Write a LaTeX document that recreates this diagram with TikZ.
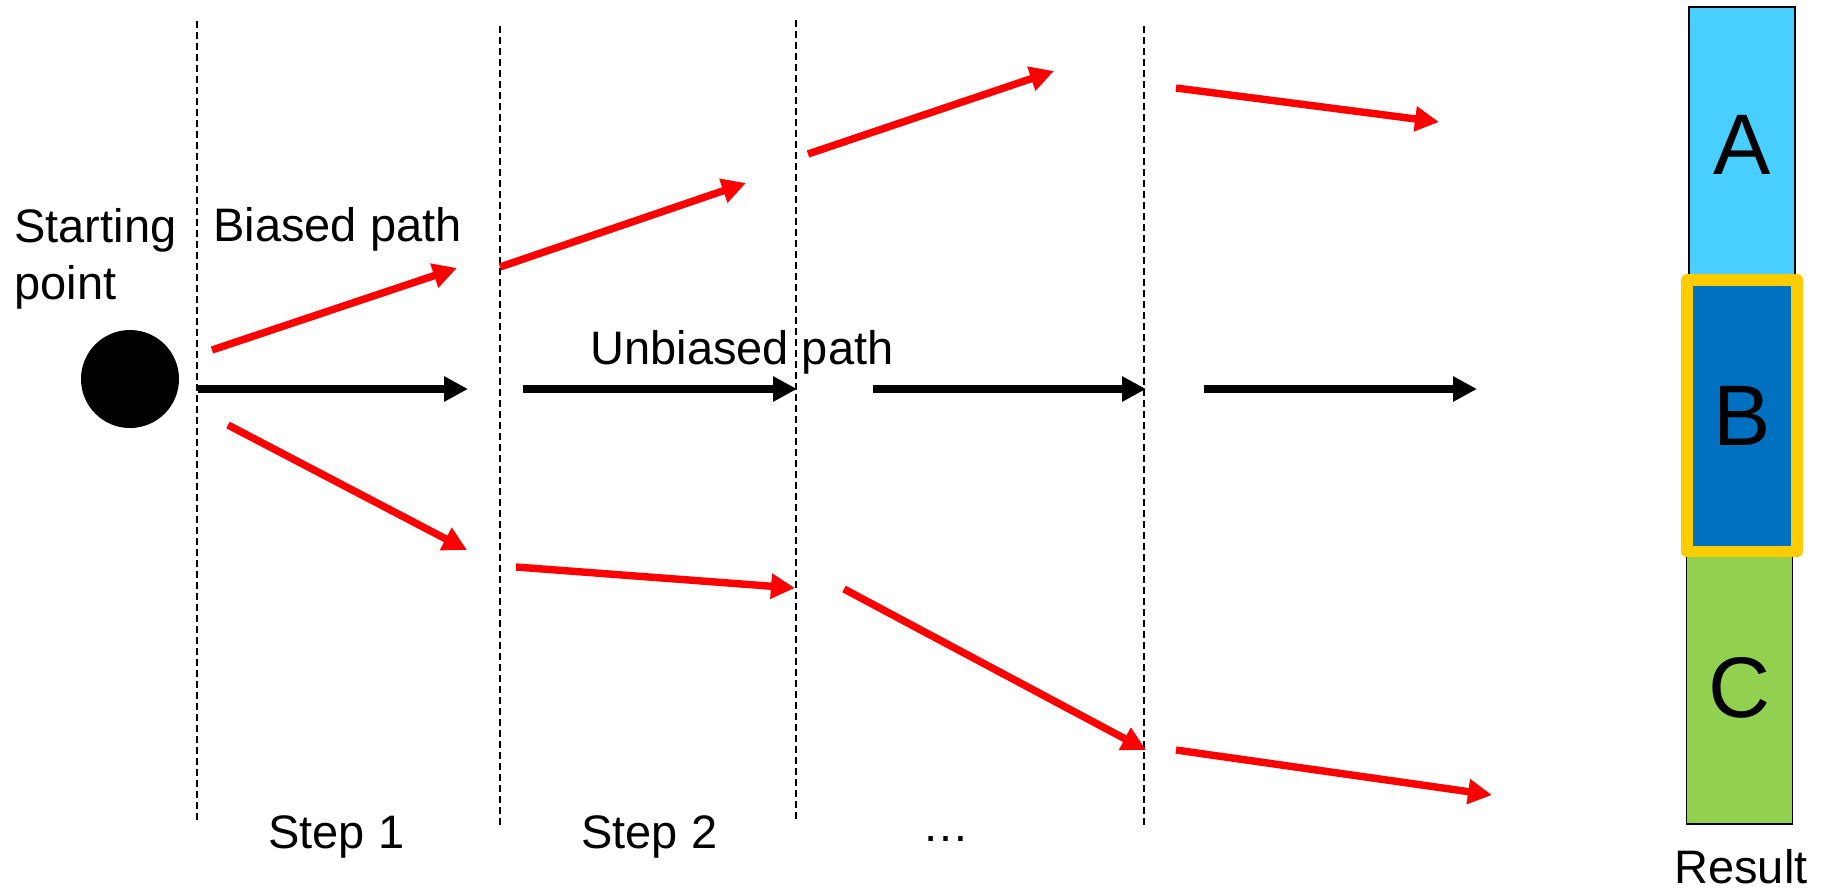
\documentclass[tikz,border=0pt]{standalone}
\usepackage{fontspec}
\setmainfont{Liberation Sans}
\usetikzlibrary{arrows.meta}
\definecolor{lblue}{RGB}{72,207,255}
\definecolor{dblue}{RGB}{0,112,192}
\definecolor{lgreen}{RGB}{146,208,80}
\definecolor{gold}{RGB}{255,204,0}
\definecolor{redarrow}{RGB}{255,0,0}
\begin{document}
\begin{tikzpicture}[x=0.5pt,y=-0.5pt,
  lbl/.style={font=\fontsize{23.5pt}{28.5pt}\selectfont, inner sep=0pt, anchor=base west},
  divider/.style={draw=black, line width=0.8pt, dash pattern=on 3.5pt off 2pt},
  move/.style={line width=3.7pt, -{Triangle[length=12pt,width=12pt]}},
  bias/.style={move, draw=redarrow, fill=redarrow},
  unbias/.style={move, draw=black, fill=black},
  bar/.style={draw=black, line width=0.75pt, inner sep=0pt, font=\fontsize{43pt}{50pt}\selectfont, minimum width=53pt}
]
\useasboundingbox (0,0) rectangle (1828,891);

% dividers
\coordinate (d1t) at (197,21);  \coordinate (d1b) at (197,822);
\coordinate (d2t) at (500,26);  \coordinate (d2b) at (500,828);
\coordinate (d3t) at (796,20);  \coordinate (d3b) at (796,822);
\coordinate (d4t) at (1144,26); \coordinate (d4b) at (1144,828);
\draw[divider] (d1t) -- (d1b);
\draw[divider] (d2t) -- (d2b);
\draw[divider] (d3t) -- (d3b);
\draw[divider] (d4t) -- (d4b);

% starting point
\node[circle, fill=black, inner sep=0pt, minimum size=49pt] (start) at (130,379) {};

% unbiased arrows
\coordinate (u1s) at (198,389);  \coordinate (u1e) at (468,389);
\coordinate (u2s) at (523,389);  \coordinate (u2e) at (797,389);
\coordinate (u3s) at (873,389);  \coordinate (u3e) at (1146,389);
\coordinate (u4s) at (1204,389); \coordinate (u4e) at (1477,389);
\draw[unbias] (u1s) -- (u1e);
\draw[unbias] (u2s) -- (u2e);
\draw[unbias] (u3s) -- (u3e);
\draw[unbias] (u4s) -- (u4e);

% biased arrows (upper)
\coordinate (a1s) at (212,350);  \coordinate (a1e) at (457,268);
\coordinate (a2s) at (500,267);  \coordinate (a2e) at (746,183);
\coordinate (a3s) at (808,154);  \coordinate (a3e) at (1054,71);
\coordinate (a4s) at (1176,88);  \coordinate (a4e) at (1439,122);
\draw[bias] (a1s) -- (a1e);
\draw[bias] (a2s) -- (a2e);
\draw[bias] (a3s) -- (a3e);
\draw[bias] (a4s) -- (a4e);

% biased arrows (lower)
\coordinate (b1s) at (228,425);  \coordinate (b1e) at (467,550);
\coordinate (b2s) at (516,567);  \coordinate (b2e) at (795,588);
\coordinate (b3s) at (844,589);  \coordinate (b3e) at (1146,750);
\coordinate (b4s) at (1176,750); \coordinate (b4e) at (1492,795);
\draw[bias] (b1s) -- (b1e);
\draw[bias] (b2s) -- (b2e);
\draw[bias] (b3s) -- (b3e);
\draw[bias] (b4s) -- (b4e);

% labels
\node[lbl, align=left] (startlbl) at (14,299) {Starting\\point};
\node[lbl] (biased) at (213,241) {Biased path};
\node[lbl] (unbiased) at (590,364) {Unbiased path};
\node[lbl] (step1) at (268,848) {Step 1};
\node[lbl] (step2) at (581,848) {Step 2};
\node[lbl, anchor=base] (dots) at (946,841) {…};

% result bar
\node[bar, fill=lblue, minimum height=137.5pt] (boxA) at (1742,144.5) {A};
\node[bar, fill=lgreen, minimum height=136pt] (boxC) at (1739.5,688) {C};
\node[draw=gold, line width=5.85pt, line join=round, fill=dblue, inner sep=0pt,
      minimum width=55.25pt, minimum height=135.75pt,
      font=\fontsize{43pt}{50pt}\selectfont] (boxB) at (1742,415.7) {B};
\node[lbl, anchor=base] (result) at (1741,883) {Result};
\end{tikzpicture}
\end{document}
